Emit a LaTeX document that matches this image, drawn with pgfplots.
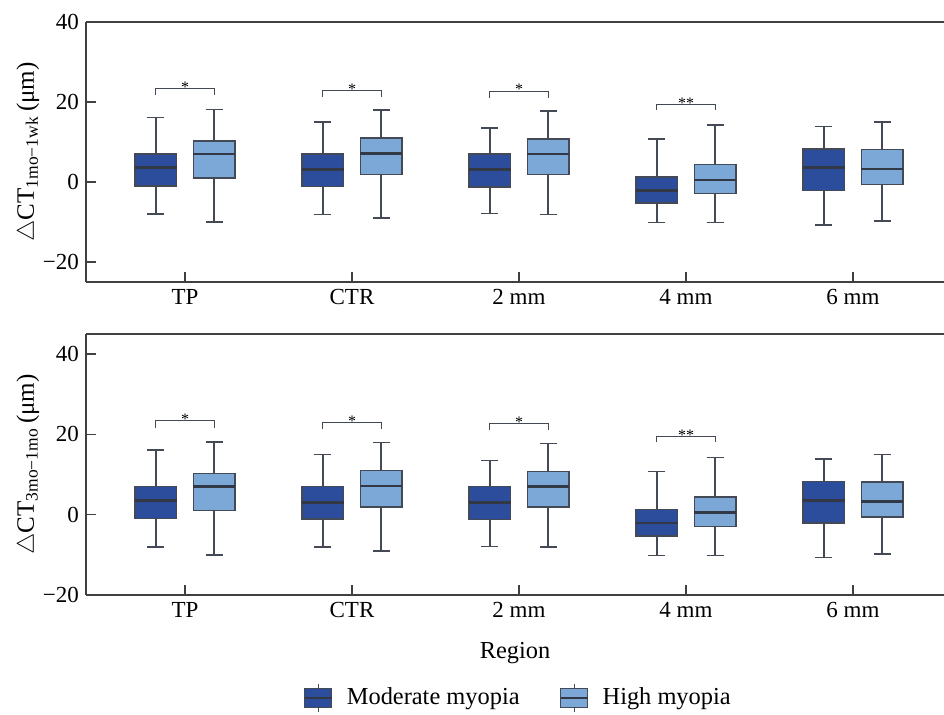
\documentclass[border=0pt]{standalone}
\usepackage{fontspec}
\setmainfont{Liberation Serif}
\usepackage{pgfplots}
\pgfplotsset{compat=1.18}
\usepgfplotslibrary{statistics}
\definecolor{darkb}{HTML}{2C4D9C}
\definecolor{lightb}{HTML}{7BA8D7}
\definecolor{edgec}{HTML}{434955}
\definecolor{medc}{HTML}{323845}
\definecolor{axc}{HTML}{404040}
\newcommand{\fsz}{\fontsize{11.5}{13.8}\selectfont}
\newcommand{\lsz}{\fontsize{12.2}{14.6}\selectfont}
\newcommand{\ysz}{\fontsize{12.5}{15}\selectfont}
\pgfplotsset{boxplot/draw direction=y, boxplot/every median/.style={draw=medc, line width=1.3pt}}
% pos, lower whisker, lower quartile, median, upper quartile, upper whisker, fill
\newcommand{\bx}[7]{\addplot[forget plot, fill=#7, draw=edgec, line width=0.75pt,
  boxplot prepared={draw position=#1, lower whisker=#2, lower quartile=#3,
  median=#4, upper quartile=#5, upper whisker=#6, box extend=0.25, whisker extend=0.1}]
  coordinates {};}
% x1, x2, ytop, ytip, xmid, label
\newcommand{\br}[6]{\draw[edgec, line width=0.45pt] (axis cs:#1,#4) -- (axis cs:#1,#3) -- (axis cs:#2,#3) -- (axis cs:#2,#4);
  \node[anchor=base, font=\footnotesize, inner sep=0pt, yshift=-1.9pt] at (axis cs:#5,#3) {#6};}
\newcommand{\allboxes}{%
  \bx{0.825}{-8.0}{-1.0}{3.6}{7.0}{16.1}{darkb}
  \bx{1.175}{-10.0}{1.0}{7.0}{10.25}{18.1}{lightb}
  \bx{1.825}{-8.1}{-1.1}{3.1}{7.0}{15.0}{darkb}
  \bx{2.175}{-9.0}{1.9}{7.1}{11.0}{18.0}{lightb}
  \bx{2.825}{-7.9}{-1.25}{3.1}{7.0}{13.5}{darkb}
  \bx{3.175}{-8.1}{1.9}{7.0}{10.7}{17.75}{lightb}
  \bx{3.825}{-10.15}{-5.25}{-2.1}{1.25}{10.7}{darkb}
  \bx{4.175}{-10.15}{-2.9}{0.5}{4.4}{14.25}{lightb}
  \bx{4.825}{-10.7}{-2.1}{3.6}{8.3}{13.9}{darkb}
  \bx{5.175}{-9.8}{-0.6}{3.25}{8.1}{15.0}{lightb}
  \br{0.825}{1.175}{23.35}{21.7}{1.0}{*}
  \br{1.825}{2.175}{22.9}{21.3}{2.0}{*}
  \br{2.825}{3.175}{22.7}{21.1}{3.0}{*}
  \br{3.825}{4.175}{19.4}{18.0}{4.0}{**}
}
\pgfplotsset{myax/.style={
  scale only axis, width=429pt,
  xmin=0.407, xmax=5.545,
  axis x line*=box, axis y line*=left,
  xtick pos=left, ytick pos=left,
  axis line style={axc, line width=0.8pt},
  tick style={axc, line width=0.8pt},
  tick align=inside, major tick length=5pt,
  xtick={1,2,3,4,5}, xticklabels={TP,CTR,2 mm,4 mm,6 mm},
  ytick={-20,0,20,40}, yticklabels={−20,0,20,40},
  minor tick num=0,
  tick label style={font=\fsz},
  label style={font=\lsz},
  ylabel style={at={(axis description cs:-0.0676,0.5)}, anchor=center, font=\ysz},
}}
\begin{document}
\begin{tikzpicture}
\begin{axis}[myax, at={(0,0)}, anchor=south west, height=130pt, ymin=-25, ymax=40,
  ylabel={$\triangle$CT\textsubscript{1mo−1wk}\,(μm)}]
\allboxes
\end{axis}
\begin{axis}[myax, at={(0,-156.5pt)}, anchor=south west, height=130.5pt, ymin=-20, ymax=45,
  ylabel={$\triangle$CT\textsubscript{3mo−1mo}\,(μm)},
  xlabel={Region},
  xlabel style={at={(axis description cs:0.5,0)}, anchor=center, yshift=-29pt},
  legend style={at={(axis description cs:0.505,0)}, anchor=center, yshift=-51.5pt, draw=none, fill=none,
    legend columns=2, font=\lsz, /tikz/every even column/.append style={column sep=18pt},
    /tikz/every odd column/.append style={column sep=5pt}},
  legend cell align=left]
\allboxes
\addlegendimage{legend image code/.code={\draw[fill=darkb, draw=edgec, line width=0.6pt] (0pt,-4.75pt) rectangle (13.5pt,4.75pt); \draw[medc, line width=1pt] (0pt,0pt) -- (13.5pt,0pt); \draw[edgec, line width=0.6pt] (6.75pt,4.75pt) -- (6.75pt,7pt) (6.75pt,-4.75pt) -- (6.75pt,-7pt);}}
\addlegendentry{Moderate myopia}
\addlegendimage{legend image code/.code={\draw[fill=lightb, draw=edgec, line width=0.6pt] (0pt,-4.75pt) rectangle (13.5pt,4.75pt); \draw[medc, line width=1pt] (0pt,0pt) -- (13.5pt,0pt); \draw[edgec, line width=0.6pt] (6.75pt,4.75pt) -- (6.75pt,7pt) (6.75pt,-4.75pt) -- (6.75pt,-7pt);}}
\addlegendentry{High myopia}
\end{axis}
\pgfresetboundingbox
\path (-43pt,141pt) rectangle (429pt,-216.5pt);
\end{tikzpicture}
\end{document}
